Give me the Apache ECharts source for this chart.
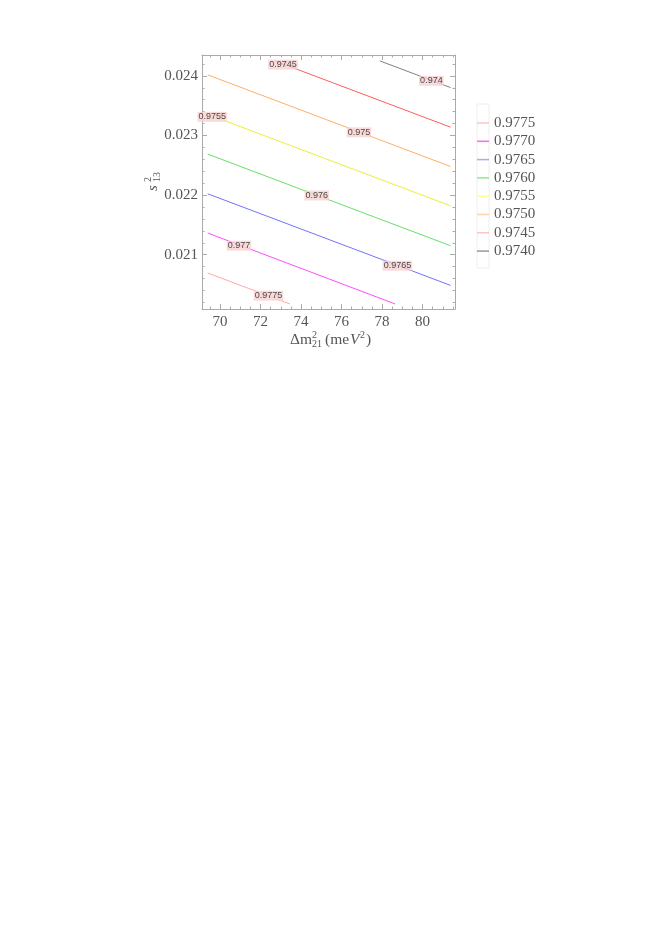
<!DOCTYPE html>
<html>
<head>
<meta charset="utf-8">
<title>contour</title>
<script src="https://cdn.jsdelivr.net/npm/echarts@6/dist/echarts.min.js"></script>
<style>
html, body { margin: 0; padding: 0; background: #fff; }
#chart_main { width: 665px; height: 940px; }
</style>
</head>
<body>
<div id="chart_main"></div>
<script>
// 等值线数值
const levels = ['0.9740', '0.9745', '0.9750', '0.9755', '0.9760', '0.9765', '0.9770', '0.9775']
const labelText = ['0.974', '0.9745', '0.975', '0.9755', '0.976', '0.9765', '0.977', '0.9775']
// 每条线的起点 / 终点 [Δm², s13²]
const lineStart = [[77.89, 0.024251], [72.71, 0.02425], [69.393, 0.024017], [69.393, 0.023355], [69.393, 0.022688], [69.393, 0.022022], [69.393, 0.021364], [69.393, 0.020693]]
const lineEnd = [[81.38, 0.023804], [81.38, 0.02314], [81.38, 0.02248], [81.38, 0.021821], [81.38, 0.021151], [81.38, 0.020486], [78.648, 0.020174], [73.453, 0.020174]]
// 线上的数值标签位置
const labelPos = [[80.434, 0.023916], [73.108, 0.024189], [76.857, 0.023053], [69.615, 0.023313], [74.773, 0.021994], [78.757, 0.020816], [70.937, 0.021151], [72.393, 0.020313]]
// 刻度
const xTicks = [70, 72, 74, 76, 78, 80]
const yTicks = [0.021, 0.022, 0.023, 0.024]

const lineColors = ['#808080', '#ff5c5c', '#ffb066', '#eeee33', '#66e066', '#7272ff', '#ff4cff', '#ffaaaa']
const legendColors = ['#999999', '#ffc4c4', '#ffd2a8', '#ffff99', '#88ee88', '#a8a8ff', '#ff66ff', '#ffc4c4']

const serif = 'Liberation Serif'
const frameColor = '#aaaaaa'
const textColor = '#555555'

// 次刻度
let xMinor = []
for (let v = 69.5; v <= 81.5; v += 0.5) xMinor.push(+v.toFixed(1))
let yMinor = []
for (let v = 0.0202; v <= 0.02431; v += 0.0002) yMinor.push(+v.toFixed(4))

const xMin = 69.11
const xMax = 81.6
const yMin = 0.02009
const yMax = 0.02435

function mkX (grid, pos, ticks, len, showLine, labels) {
    return {
        gridIndex: grid,
        type: 'value',
        position: pos,
        min: xMin,
        max: xMax,
        axisLine: { show: showLine, onZero: false, lineStyle: { color: frameColor, width: 1 } },
        axisTick: { show: true, inside: true, length: len, customValues: ticks, lineStyle: { color: frameColor } },
        axisLabel: labels ? {
            show: true,
            customValues: xTicks,
            fontFamily: serif,
            fontSize: 15,
            color: textColor,
            margin: 6
        } : { show: false },
        splitLine: { show: false }
    }
}

function mkY (grid, pos, ticks, len, showLine, labels) {
    return {
        gridIndex: grid,
        type: 'value',
        position: pos,
        min: yMin,
        max: yMax,
        axisLine: { show: showLine, onZero: false, lineStyle: { color: frameColor, width: 1 } },
        axisTick: { show: true, inside: true, length: len, customValues: ticks, lineStyle: { color: frameColor } },
        axisLabel: labels ? {
            show: true,
            customValues: yTicks,
            formatter: (v) => v.toFixed(3),
            fontFamily: serif,
            fontSize: 15,
            color: textColor,
            margin: 4
        } : { show: false },
        splitLine: { show: false }
    }
}

let series = []
levels.forEach((name, i) => {
    series.push({
        name: name,
        type: 'line',
        xAxisIndex: 0,
        yAxisIndex: 0,
        symbol: 'none',
        color: lineColors[i],
        lineStyle: { width: 1, color: lineColors[i] },
        data: [lineStart[i], lineEnd[i]],
        animation: false
    })
})
// 线上标签
series.push({
    name: 'labels',
    type: 'scatter',
    xAxisIndex: 0,
    yAxisIndex: 0,
    symbolSize: 1,
    itemStyle: { color: 'rgba(0,0,0,0)' },
    z: 5,
    data: labelPos,
    label: {
        show: true,
        position: 'inside',
        formatter: (p) => labelText[p.dataIndex],
        fontFamily: 'Liberation Sans',
        fontSize: 9,
        color: '#222',
        backgroundColor: '#f9d2d2',
        padding: [1, 1, 0, 1]
    },
    animation: false
})

let legendData = levels.map((name, i) => ({ name: name, itemStyle: { color: legendColors[i] } })).reverse()

let myChart = echarts.init(document.getElementById('chart_main'))
let option = {
    backgroundColor: '#fff',
    animation: false,
    grid: [
        { left: 202, top: 55, width: 253, height: 254 },
        { left: 202, top: 55, width: 253, height: 254 }
    ],
    xAxis: [
        mkX(0, 'bottom', xTicks, 5, true, true),
        mkX(0, 'top', xTicks, 5, true, false),
        mkX(1, 'bottom', xMinor, 2.5, false, false),
        mkX(1, 'top', xMinor, 2.5, false, false)
    ],
    yAxis: [
        mkY(0, 'left', yTicks, 5, true, true),
        mkY(0, 'right', yTicks, 5, true, false),
        mkY(1, 'left', yMinor, 2.5, false, false),
        mkY(1, 'right', yMinor, 2.5, false, false)
    ],
    legend: {
        orient: 'vertical',
        left: 477,
        top: 115,
        padding: 0,
        itemWidth: 12,
        itemHeight: 1.5,
        itemGap: 2.3,
        icon: 'rect',
        selectedMode: false,
        data: legendData,
        textStyle: { fontFamily: serif, fontSize: 15, color: textColor, lineHeight: 16 }
    },
    graphic: [
        // 图例外框
        { type: 'rect', shape: { x: 477, y: 104, width: 12, height: 164 }, style: { fill: 'none', stroke: '#eeeeee', lineWidth: 1 }, silent: true },
        // y 轴标题 s²₁₃
        {
            type: 'group',
            x: 153,
            y: 182,
            rotation: Math.PI / 2,
            children: [
                { type: 'text', x: -6, y: 0, style: { text: 's', font: 'italic 15px ' + serif, fill: textColor, align: 'center', verticalAlign: 'middle' } },
                { type: 'text', x: 0, y: -5, style: { text: '2', font: '10px ' + serif, fill: textColor, align: 'left', verticalAlign: 'middle' } },
                { type: 'text', x: 0, y: 4, style: { text: '13', font: '10px ' + serif, fill: textColor, align: 'left', verticalAlign: 'middle' } }
            ]
        },
        // x 轴标题 Δm²₂₁ (meV²)
        { type: 'text', x: 290, y: 340, style: { text: 'Δm', font: '15.5px ' + serif, fill: textColor, verticalAlign: 'middle' } },
        { type: 'text', x: 312, y: 335, style: { text: '2', font: '10px ' + serif, fill: textColor, verticalAlign: 'middle' } },
        { type: 'text', x: 312, y: 344, style: { text: '21', font: '10px ' + serif, fill: textColor, verticalAlign: 'middle' } },
        { type: 'text', x: 325, y: 340, style: { text: '(me', font: '15.5px ' + serif, fill: textColor, verticalAlign: 'middle' } },
        { type: 'text', x: 350, y: 340, style: { text: 'V', font: 'italic 15.5px ' + serif, fill: textColor, verticalAlign: 'middle' } },
        { type: 'text', x: 360, y: 335, style: { text: '2', font: '10px ' + serif, fill: textColor, verticalAlign: 'middle' } },
        { type: 'text', x: 366, y: 340, style: { text: ')', font: '15.5px ' + serif, fill: textColor, verticalAlign: 'middle' } }
    ],
    series: series
}

option && myChart.setOption(option)
</script>
</body>
</html>
